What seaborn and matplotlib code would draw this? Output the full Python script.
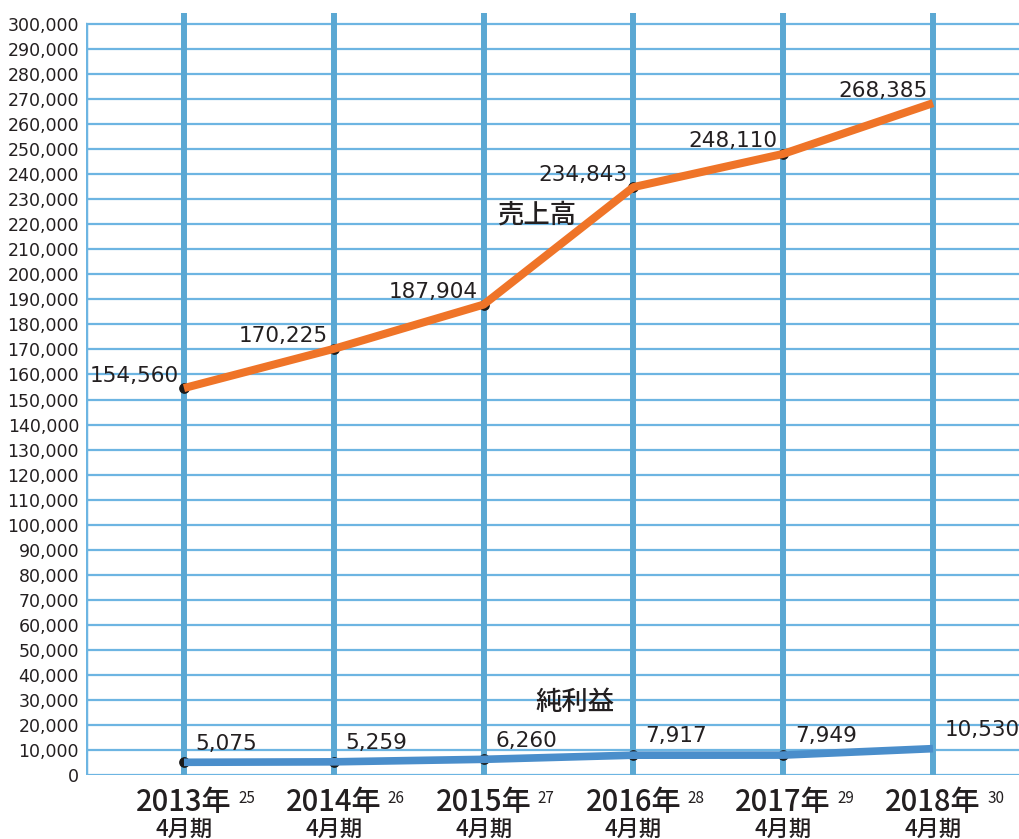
import numpy as np
import pandas as pd
import matplotlib
matplotlib.use('Agg')
import matplotlib.pyplot as plt
import seaborn as sn

# data
years = ['2013年', '2014年', '2015年', '2016年', '2017年', '2018年']
heisei = ['25', '26', '27', '28', '29', '30']
sales = [154560, 170225, 187904, 234843, 248110, 268385]
profit = [5075, 5259, 6260, 7917, 7949, 10530]

df = pd.DataFrame({'idx': np.arange(len(years)), 'sales': sales, 'profit': profit})

sn.set_style('white')
plt.rcParams['font.family'] = ['DejaVu Sans', 'Noto Sans CJK JP']
jp = ['Noto Sans CJK JP', 'DejaVu Sans']

grid_v = '#5ba8d3'
grid_h = '#6db5e2'
orange = '#ef7428'
blue = '#4a8ecb'
ink = '#231f20'

fig = plt.figure(figsize=(10.2, 8.39), dpi=100)
ax = fig.add_axes([86 / 1020, 64 / 839, 934 / 1020, 762 / 839])

xmin, xmax = -0.654, 5.581
ytop = 300000 * 762 / 751
ax.set_xlim(xmin, xmax)
ax.set_ylim(0, ytop)

# grid lines
yt = np.arange(0, 300001, 10000)
for v in yt:
    ax.axhline(v, color=grid_h, lw=1.6, zorder=1)
for i in df['idx']:
    ax.axvline(i, color=grid_v, lw=4.3, zorder=2)
ax.axvline(xmin, ymax=300000 / ytop, color=grid_h, lw=2.5, zorder=2)
for s in ax.spines.values():
    s.set_visible(False)

ax.set_yticks(yt)
ax.set_yticklabels(['0' if v == 0 else f'{v:,}' for v in yt], fontsize=12.5, color=ink)
ax.tick_params(axis='y', length=0, pad=5)
ax.set_xticks([])

# dots under the lines
ax.scatter(df['idx'][:-1], df['sales'][:-1], s=45, color='#1a1a1a', zorder=3)
ax.scatter(df['idx'][:-1], df['profit'][:-1], s=45, color='#1a1a1a', zorder=3)

sn.lineplot(data=df, x='idx', y='sales', color=orange, lw=5.8, ax=ax, zorder=4,
            solid_capstyle='butt')
sn.lineplot(data=df, x='idx', y='profit', color=blue, lw=5.5, ax=ax, zorder=4,
            solid_capstyle='butt')
ax.set_xlabel('')
ax.set_ylabel('')

for i, v in enumerate(sales):
    ax.annotate(f'{v:,}', (i, v), xytext=(-4, 9), textcoords='offset points',
                ha='right', va='center', fontsize=15.5, color=ink, zorder=5)
for i, v in enumerate(profit):
    ax.annotate(f'{v:,}', (i, v), xytext=(8.5, 13.5), textcoords='offset points',
                ha='left', va='center', fontsize=15.5, color=ink, zorder=5)

ax.text(2.357, 223700, '売上高', family=jp, fontsize=19, fontweight='medium',
        ha='center', va='center', color=ink, zorder=5)
ax.text(2.61, 28800, '純利益', family=jp, fontsize=19, fontweight='medium',
        ha='center', va='center', color=ink, zorder=5)

# x labels
for i, (y, h) in enumerate(zip(years, heisei)):
    ax.annotate(y, (i, 0), xycoords=('data', 'axes fraction'), xytext=(0, -20),
                textcoords='offset points', ha='center', va='center', fontweight='medium',
                family=jp, fontsize=21, color=ink, annotation_clip=False)
    ax.annotate(h, (i, 0), xycoords=('data', 'axes fraction'), xytext=(39, -17),
                textcoords='offset points', ha='left', va='center',
                family=jp, fontsize=11, color=ink, annotation_clip=False)
    ax.annotate('4月期', (i, 0), xycoords=('data', 'axes fraction'), xytext=(0, -39),
                textcoords='offset points', ha='center', va='center', fontweight='medium',
                family=jp, fontsize=16, color=ink, annotation_clip=False)

plt.savefig('out.png', dpi=100)
